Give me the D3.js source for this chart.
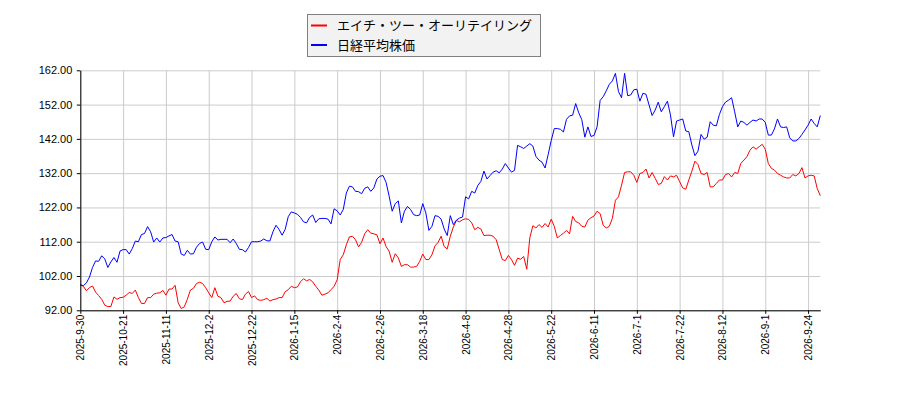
<!DOCTYPE html>
<html lang="ja">
<head>
<meta charset="UTF-8">
<title>エイチ・ツー・オーリテイリング と 日経平均株価</title>
<script src="https://cdn.jsdelivr.net/npm/d3@7"></script>
<style>
    body { margin: 0; background: #fff; }
    svg { display: block; font-family: "DejaVu Sans", sans-serif; }
    .grid line { stroke: #cccccc; stroke-width: 1; }
    .grid path { display: none; }
    .axis path, .axis line { stroke: #000; }
    .axis text { fill: #000; font-size: 11px; }
    .axis.x text { font-size: 10px; }
    .legend text { font-family: "Noto Sans CJK JP", sans-serif; font-size: 13px; }
</style>
</head>
<body>
<script>
// tick labels on the date axis (one every 14 trading days)
const dateLabels = ["2025-9-30", "2025-10-21", "2025-11-11", "2025-12-2", "2025-12-22",
    "2026-1-15", "2026-2-4", "2026-2-26", "2026-3-18", "2026-4-8", "2026-4-28",
    "2026-5-22", "2026-6-11", "2026-7-1", "2026-7-22", "2026-8-12", "2026-9-1", "2026-9-24"];

const yTicks = [92, 102, 112, 122, 132, 142, 152, 162];

const seriesNames = ["エイチ・ツー・オーリテイリング", "日経平均株価"];

// relative performance, first day = ~100
const h2o = [
    99.5, 99.0, 97.7, 98.6, 99.1, 97.3, 96.3, 95.2, 93.5, 93.1,
    93.1, 95.9, 95.2, 95.7, 95.8, 96.4, 97.2, 96.9, 97.9, 95.7,
    94.0, 94.0, 95.7, 95.7, 96.7, 97.0, 97.1, 97.8, 96.4, 98.2,
    98.2, 99.3, 94.2, 92.5, 93.0, 95.2, 97.9, 98.4, 99.8, 100.2,
    99.8, 98.6, 97.1, 95.7, 98.6, 96.1, 95.7, 94.2, 94.6, 94.7,
    96.1, 96.9, 95.4, 95.1, 96.7, 97.5, 95.7, 96.2, 95.1, 94.9,
    95.1, 95.5, 94.7, 95.1, 95.3, 95.7, 95.7, 97.4, 98.0, 99.0,
    98.6, 98.8, 100.3, 101.2, 100.6, 101.0, 100.3, 99.0, 97.9, 96.4,
    96.7, 97.1, 98.0, 99.0, 100.9, 106.8, 108.2, 111.1, 113.4, 113.6,
    112.6, 110.5, 111.8, 114.3, 115.5, 114.5, 114.3, 114.0, 111.4, 113.1,
    110.6, 109.2, 106.0, 108.5, 107.3, 104.8, 105.3, 105.3, 104.6, 104.6,
    104.8, 106.3, 108.4, 106.8, 106.8, 108.2, 110.8, 111.8, 113.6, 110.6,
    109.9, 113.6, 116.3, 118.2, 117.8, 118.4, 118.7, 118.5, 117.5, 115.5,
    116.2, 115.7, 113.8, 113.9, 113.9, 113.6, 112.6, 109.7, 106.8, 106.5,
    108.0, 106.8, 105.1, 107.2, 106.9, 107.7, 104.0, 113.1, 116.7, 116.0,
    117.0, 116.2, 117.3, 116.3, 118.6, 116.5, 113.1, 113.8, 114.5, 115.3,
    114.3, 119.4, 117.9, 117.5, 116.5, 116.3, 118.3, 119.0, 119.5, 120.9,
    120.2, 116.8, 116.0, 116.5, 118.8, 124.1, 125.1, 128.5, 132.2, 132.4,
    132.4, 131.4, 129.3, 131.9, 132.2, 133.2, 130.6, 132.2, 130.5, 128.7,
    129.0, 131.0, 130.0, 131.2, 130.9, 131.4, 129.5, 127.7, 127.3, 130.0,
    132.6, 135.5, 134.5, 131.9, 131.6, 132.2, 128.0, 128.0, 129.0, 130.0,
    130.0, 131.6, 131.9, 130.9, 132.2, 131.9, 134.8, 135.8, 136.8, 138.7,
    139.7, 139.0, 139.7, 140.4, 139.0, 134.8, 133.4, 132.9, 131.9, 131.4,
    130.9, 130.6, 130.6, 131.6, 131.2, 131.9, 133.6, 130.6, 131.2, 131.4,
    131.2, 127.5, 125.4
];

const nikkei = [
    99.4, 99.2, 100.0, 101.7, 104.5, 106.4, 106.3, 107.9, 107.0, 104.5,
    106.1, 107.4, 106.0, 109.3, 109.7, 109.7, 108.4, 110.0, 112.2, 112.0,
    114.1, 114.4, 116.4, 114.9, 111.9, 113.1, 111.9, 113.1, 113.2, 113.7,
    114.1, 112.2, 112.0, 108.4, 108.0, 109.5, 108.4, 108.5, 110.4, 111.5,
    111.9, 109.8, 109.7, 112.0, 113.4, 112.5, 112.7, 112.7, 112.7, 111.7,
    112.8, 111.5, 109.8, 109.7, 109.0, 110.3, 112.0, 112.0, 112.0, 112.2,
    112.8, 112.3, 112.2, 114.9, 116.8, 115.6, 113.9, 115.6, 119.3, 120.7,
    120.4, 120.0, 119.1, 117.8, 117.5, 119.1, 119.8, 117.6, 118.7, 118.8,
    118.8, 118.6, 117.2, 121.6, 121.0, 119.8, 121.4, 126.2, 128.2, 128.0,
    126.7, 126.6, 126.0, 127.6, 128.0, 126.7, 127.7, 130.3, 131.1, 131.3,
    129.3, 125.3, 120.9, 123.1, 123.9, 117.5, 120.9, 122.3, 121.4, 119.9,
    119.6, 119.8, 123.1, 120.4, 115.3, 116.5, 119.6, 119.4, 118.6, 115.7,
    113.8, 119.6, 117.0, 118.3, 118.9, 119.2, 125.1, 124.5, 126.7, 126.2,
    128.4, 129.6, 132.6, 130.3, 131.3, 132.3, 132.7, 132.1, 133.2, 134.8,
    133.5, 132.3, 132.8, 140.1, 139.7, 139.2, 139.9, 140.6, 139.9, 136.9,
    135.8, 135.2, 133.5, 137.4, 141.5, 145.0, 145.0, 144.8, 144.0, 147.7,
    148.7, 148.9, 152.3, 149.6, 147.6, 142.5, 145.5, 142.7, 143.0, 145.5,
    153.2, 154.3, 156.0, 157.9, 158.9, 161.1, 155.8, 154.0, 161.1, 154.6,
    154.8, 156.3, 156.5, 153.0, 155.3, 155.0, 151.9, 148.8, 150.4, 152.7,
    149.9, 151.4, 153.0, 149.0, 142.6, 147.2, 147.5, 147.8, 144.3, 144.1,
    140.2, 137.1, 138.4, 143.3, 141.9, 142.5, 147.0, 146.0, 145.8, 149.1,
    151.4, 152.7, 153.3, 154.0, 149.9, 145.5, 147.2, 146.8, 146.0, 146.8,
    147.5, 147.2, 147.8, 147.8, 146.8, 143.1, 143.1, 144.9, 147.8, 145.5,
    145.3, 145.5, 142.3, 141.4, 141.4, 142.1, 143.3, 144.6, 146.0, 147.8,
    146.5, 145.5, 148.8
];

const width = 900, height = 400;
const margin = {left: 80.3, right: 79.7, top: 70.3, bottom: 89.7};

const svg = d3.select("body").append("svg")
    .attr("width", width)
    .attr("height", height);

const x = d3.scaleLinear()
    .domain([0, h2o.length - 1])
    .range([margin.left, width - margin.right]);

const y = d3.scaleLinear()
    .domain([92, 162])
    .range([height - margin.bottom, margin.top]);

const xTickIdx = dateLabels.map((d, i) => i * 14);

// grid
svg.append("g").attr("class", "grid")
    .attr("transform", `translate(0,${height - margin.bottom})`)
    .call(d3.axisBottom(x).tickValues(xTickIdx).tickSize(-(height - margin.top - margin.bottom)).tickFormat(""));
svg.append("g").attr("class", "grid")
    .attr("transform", `translate(${margin.left},0)`)
    .call(d3.axisLeft(y).tickValues(yTicks).tickSize(-(width - margin.left - margin.right)).tickFormat(""));

// lines
const line = d3.line()
    .x((d, i) => x(i))
    .y(d => y(d));

svg.append("path")
    .datum(h2o)
    .attr("fill", "none")
    .attr("stroke", "#ff0000")
    .attr("stroke-width", 1)
    .attr("d", line);

svg.append("path")
    .datum(nikkei)
    .attr("fill", "none")
    .attr("stroke", "#0000ff")
    .attr("stroke-width", 1)
    .attr("d", line);

// axes
svg.append("g").attr("class", "axis x")
    .attr("transform", `translate(0,${height - margin.bottom})`)
    .call(d3.axisBottom(x).tickValues(xTickIdx).tickSize(3.5).tickSizeOuter(0)
        .tickFormat((d, i) => dateLabels[i]))
    .selectAll("text")
    .attr("transform", "rotate(-90)")
    .attr("x", -4.5)
    .attr("y", 0)
    .attr("dy", "0.35em")
    .attr("text-anchor", "end");

svg.append("g").attr("class", "axis")
    .attr("transform", `translate(${margin.left},0)`)
    .call(d3.axisLeft(y).tickValues(yTicks).tickSize(3.5).tickSizeOuter(0)
        .tickFormat(d3.format(".2f")))
    .selectAll("text")
    .attr("x", -8);

// legend
const legend = svg.append("g").attr("class", "legend");
legend.append("rect")
    .attr("x", 307.5).attr("y", 14.5)
    .attr("width", 233).attr("height", 42)
    .attr("fill", "#f2f2f2")
    .attr("stroke", "#808080");

const colors = ["#ff0000", "#0000ff"];
seriesNames.forEach((name, i) => {
    const ly = 25.5 + i * 19.5;
    legend.append("line")
        .attr("x1", 311).attr("x2", 327)
        .attr("y1", ly).attr("y2", ly)
        .attr("stroke", colors[i])
        .attr("stroke-width", 2);
    legend.append("text")
        .attr("x", 337).attr("y", ly)
        .attr("dy", "0.35em")
        .text(name);
});
</script>
</body>
</html>
